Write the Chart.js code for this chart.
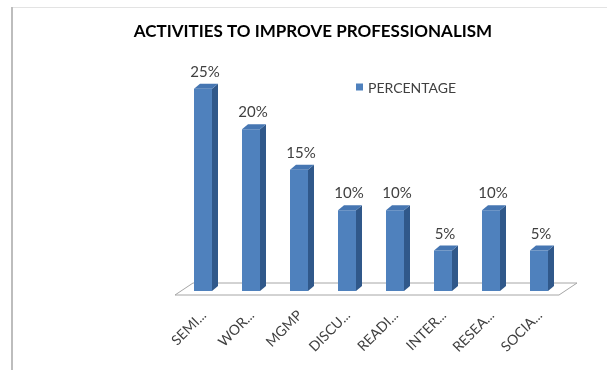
<!DOCTYPE html>
<html>
<head>
<meta charset="utf-8">
<script src="https://cdn.jsdelivr.net/npm/chart.js@4.4.1/dist/chart.umd.min.js"></script>
<style>
  html, body { margin: 0; padding: 0; background: #ffffff; }
  #wrap { width: 607px; height: 370px; position: relative; }
</style>
</head>
<body>
<div id="wrap"><canvas id="c" width="607" height="370"></canvas></div>
<script>
const titleText = "ACTIVITIES TO IMPROVE PROFESSIONALISM";
const seriesName = "PERCENTAGE";
const categories = ["SEMI...", "WOR...", "MGMP", "DISCU...", "READI...", "INTER...", "RESEA...", "SOCIA..."];
const percentages = [25, 20, 15, 10, 10, 5, 10, 5];

const FONT = "Lato, 'Open Sans', sans-serif";
const FRONT = "#4F81BD";
const SIDE = "#30588A";
const TOP = "#4676B2";
const TEXT = "#404040";
const DX = 6, DY = -5;

const framePlugin = {
  id: "frame",
  beforeDraw(chart) {
    const ctx = chart.ctx;
    ctx.save();
    ctx.fillStyle = "#ffffff";
    ctx.fillRect(0, 0, chart.width, chart.height);
    ctx.fillStyle = "#e3e3e3";
    ctx.fillRect(12, 7, chart.width - 12, 1);
    ctx.fillStyle = "#bdbdbd";
    ctx.fillRect(11, 7, 2, chart.height - 7);
    ctx.restore();
  }
};

const floorPlugin = {
  id: "floor3d",
  beforeDatasetsDraw(chart) {
    const ctx = chart.ctx;
    const a = chart.chartArea;
    const base = chart.scales.y.getPixelForValue(0);
    const fy = base + 4, by = base - 8;
    const fl = a.left - 4, fr = a.right - 4;
    ctx.save();
    ctx.beginPath();
    ctx.moveTo(fl, fy);
    ctx.lineTo(fr, fy);
    ctx.lineTo(fr + 18, by);
    ctx.lineTo(fl + 18, by);
    ctx.closePath();
    ctx.fillStyle = "#ffffff";
    ctx.fill();
    ctx.strokeStyle = "#a6a6a6";
    ctx.lineWidth = 1;
    ctx.stroke();
    ctx.restore();
  }
};

const bar3dPlugin = {
  id: "bar3d",
  afterDatasetsDraw(chart) {
    const ctx = chart.ctx;
    const meta = chart.getDatasetMeta(0);
    ctx.save();
    meta.data.forEach((bar, i) => {
      const p = bar.getProps(["x", "y", "base", "width"], true);
      const l = p.x - p.width / 2, r = p.x + p.width / 2;
      ctx.beginPath();
      ctx.moveTo(r, p.y);
      ctx.lineTo(r + DX, p.y + DY);
      ctx.lineTo(r + DX, p.base + DY);
      ctx.lineTo(r, p.base);
      ctx.closePath();
      ctx.fillStyle = SIDE;
      ctx.fill();
      ctx.beginPath();
      ctx.moveTo(l, p.y);
      ctx.lineTo(l + DX, p.y + DY);
      ctx.lineTo(r + DX, p.y + DY);
      ctx.lineTo(r, p.y);
      ctx.closePath();
      ctx.fillStyle = TOP;
      ctx.fill();
      ctx.fillStyle = TEXT;
      ctx.font = "15px " + FONT;
      ctx.textAlign = "center";
      ctx.textBaseline = "alphabetic";
      ctx.fillText(percentages[i] + "%", p.x + 2, p.y - 12);
    });
    ctx.restore();
  }
};

const legendPlugin = {
  id: "customLegend",
  afterDraw(chart) {
    const ctx = chart.ctx;
    const ds = chart.data.datasets[0];
    const x = 356, y = 87;
    ctx.save();
    ctx.fillStyle = ds.backgroundColor;
    ctx.fillRect(x, y - 3.5, 7, 7);
    ctx.fillStyle = TEXT;
    ctx.font = "14px " + FONT;
    ctx.textAlign = "left";
    ctx.textBaseline = "middle";
    ctx.fillText(ds.label, x + 12, y + 1);
    ctx.restore();
  }
};

new Chart(document.getElementById("c"), {
  type: "bar",
  data: {
    labels: categories,
    datasets: [{
      label: seriesName,
      data: percentages,
      backgroundColor: FRONT,
      borderWidth: 0,
      barPercentage: 1,
      categoryPercentage: 0.375
    }]
  },
  options: {
    responsive: false,
    animation: false,
    devicePixelRatio: 1,
    layout: { padding: { left: 19, right: 0, top: 11, bottom: 0 } },
    plugins: {
      legend: { display: false },
      tooltip: { enabled: false },
      title: {
        display: true,
        text: titleText,
        color: "#000000",
        font: { family: FONT, size: 17, weight: "bold" },
        padding: { top: 10, bottom: 7 }
      }
    },
    scales: {
      x: {
        grid: { display: false },
        border: { display: false },
        ticks: {
          autoSkip: false,
          maxRotation: 45,
          minRotation: 45,
          padding: 8,
          labelOffset: 1,
          color: TEXT,
          font: { family: FONT, size: 14 }
        },
        afterFit(scale) { scale.height = 79; }
      },
      y: {
        min: 0,
        max: 30,
        grid: { display: false },
        border: { display: false },
        ticks: { display: false },
        afterFit(scale) { scale.width = 160; }
      },
      y2: {
        position: "right",
        grid: { display: false },
        border: { display: false },
        ticks: { display: false },
        afterFit(scale) { scale.width = 44; }
      }
    }
  },
  plugins: [framePlugin, floorPlugin, bar3dPlugin, legendPlugin]
});
</script>
</body>
</html>
